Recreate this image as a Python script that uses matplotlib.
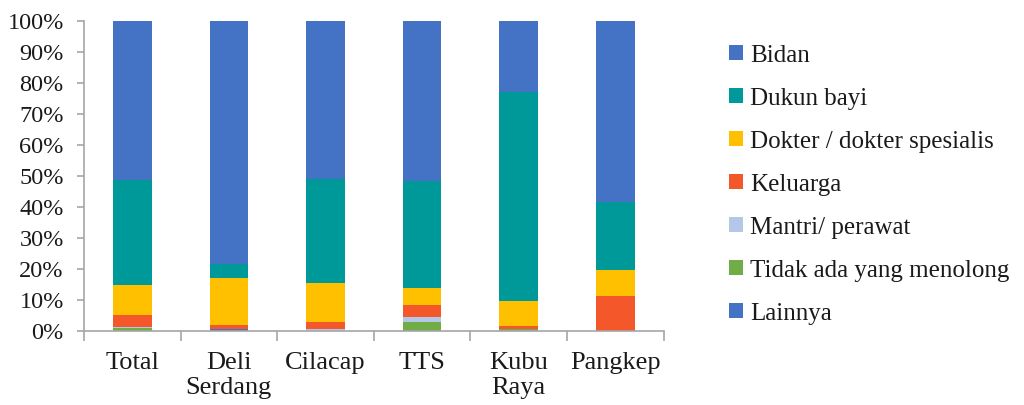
import matplotlib
matplotlib.use("Agg")
import matplotlib.pyplot as plt
import numpy as np
from matplotlib.patches import Patch
from matplotlib.ticker import FixedLocator, PercentFormatter

plt.rcParams['font.family'] = ['Liberation Serif', 'DejaVu Serif']

categories = ["Total", "Deli\nSerdang", "Cilacap", "TTS", "Kubu\nRaya", "Pangkep"]

# Shares (%) per category, stacked bottom to top
lainnya   = [0.0, 0.5, 0.0, 0.0, 0.0, 0.0]
tidak_ada = [0.8, 0.0, 0.0, 3.0, 0.5, 0.0]
mantri    = [0.6, 0.0, 0.5, 1.6, 0.0, 0.0]
keluarga  = [3.7, 1.5, 2.5, 3.6, 1.2, 11.1]
dokter    = [9.7, 15.2, 12.5, 5.7, 7.8, 8.6]
dukun     = [33.8, 4.3, 33.6, 34.4, 67.6, 21.9]
bidan     = [51.4, 78.5, 50.9, 51.7, 22.9, 58.4]

series = [
    ("Lainnya", lainnya, "#4472C4"),
    ("Tidak ada yang menolong", tidak_ada, "#70AD47"),
    ("Mantri/ perawat", mantri, "#B4C7E7"),
    ("Keluarga", keluarga, "#F4582A"),
    ("Dokter / dokter spesialis", dokter, "#FFC000"),
    ("Dukun bayi", dukun, "#009999"),
    ("Bidan", bidan, "#4472C4"),
]

fig = plt.figure(figsize=(10.24, 4.05), dpi=100)
ax = fig.add_axes([0.082, 0.183, 0.566, 0.765])

x = np.arange(len(categories))
bottom = np.zeros(len(categories))
for name, vals, color in series:
    v = np.array(vals, dtype=float)
    ax.bar(x, v, width=0.4, bottom=bottom, color=color, label=name,
           edgecolor="none")
    bottom += v

ax.set_xlim(-0.5, len(categories) - 0.5)
ax.set_ylim(0, 100)
ax.yaxis.set_major_locator(FixedLocator(np.arange(0, 101, 10)))
ax.yaxis.set_major_formatter(PercentFormatter(decimals=0))

axis_color = "#A6A6A6"
for side in ["top", "right"]:
    ax.spines[side].set_visible(False)
for side in ["left", "bottom"]:
    ax.spines[side].set_color(axis_color)
    ax.spines[side].set_linewidth(1.2)

ax.set_xticks(x)
ax.set_xticklabels(categories, fontsize=19, linespacing=1.2, va="top",
                   color="#1a1a1a")
ax.tick_params(axis="x", which="major", length=0, pad=15)
ax.set_xticks(np.arange(-0.5, len(categories), 1.0), minor=True)
ax.tick_params(axis="x", which="minor", length=7, width=1.2, color=axis_color,
               direction="out")
ax.tick_params(axis="y", length=5, width=1.2, color=axis_color,
               labelsize=17.5, pad=9.5, labelcolor="#1a1a1a")

# Legend lists the top segment first
handles = [Patch(facecolor=c, edgecolor="none", label=n) for n, _, c in reversed(series)]
fig.legend(handles=handles, loc="upper left", bbox_to_anchor=(0.69, 0.945),
           frameon=False, fontsize=18, handlelength=0.55, handleheight=0.55,
           handletextpad=0.3, labelspacing=0.84, labelcolor="#1a1a1a")

fig.savefig("out.png", dpi=100)
